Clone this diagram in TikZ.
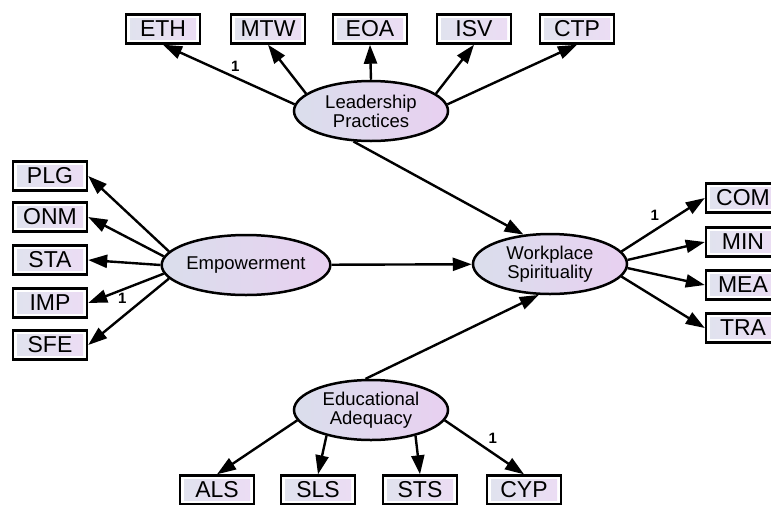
\documentclass[tikz,border=0pt]{standalone}
\usepackage{fontspec}
\setmainfont{Liberation Sans}
\usetikzlibrary{arrows.meta,shapes.geometric}
\definecolor{ellL}{RGB}{218,222,236}
\definecolor{ellR}{RGB}{232,208,240}
\definecolor{boxL}{RGB}{224,227,238}
\definecolor{boxR}{RGB}{236,220,244}
\begin{document}
\begin{tikzpicture}[x=1pt,y=-1pt,
 latent/.style={ellipse, draw, line width=2.5pt, left color=ellL, right color=ellR,
   minimum width=154pt, minimum height=60pt, inner sep=0pt, align=center,
   font=\fontsize{18.5}{19}\selectfont},
 obs/.style={rectangle, draw, line width=2.4pt, fill=white, minimum width=74pt,
   minimum height=29pt, inner sep=0pt, font=\fontsize{23}{23}\selectfont,
   path picture={\shade[left color=boxL, right color=boxR]
     ([shift={(4pt,4pt)}]path picture bounding box.south west) rectangle
     ([shift={(-4pt,-4pt)}]path picture bounding box.north east);}},
 arr/.style={line width=2.4pt, -{Triangle[length=19pt,width=13pt]}},
 lab/.style={font=\fontsize{15}{15}\selectfont\bfseries, inner sep=1pt}]
\useasboundingbox (0,0) rectangle (771,504);
% latent variables
\node[latent] (lp) at (371,111) {Leadership\\Practices};
\node[latent] (emp) at (246,265) {Empowerment};
\node[latent] (wp) at (550,264) {Workplace\\Spirituality};
\node[latent] (ed) at (371,410) {Educational\\Adequacy};
% top indicators
\node[obs] (eth) at (163,29) {ETH};
\node[obs] (mtw) at (268,29) {MTW};
\node[obs] (eoa) at (370,29) {EOA};
\node[obs] (isv) at (474,29) {ISV};
\node[obs] (ctp) at (577,29) {CTP};
% left indicators
\node[obs] (plg) at (50,176) {PLG};
\node[obs] (onm) at (50,217) {ONM};
\node[obs] (sta) at (50,260) {STA};
\node[obs] (imp) at (50,303) {IMP};
\node[obs] (sfe) at (50,345) {SFE};
% right indicators
\node[obs] (com) at (743,198) {COM};
\node[obs] (min) at (743,242) {MIN};
\node[obs] (mea) at (743,285) {MEA};
\node[obs] (tra) at (743,328) {TRA};
% bottom indicators
\node[obs] (als) at (217,490) {ALS};
\node[obs] (sls) at (318,490) {SLS};
\node[obs] (sts) at (420,490) {STS};
\node[obs] (cyp) at (524,490) {CYP};
% leadership
\draw[arr] (lp.175) -- node[lab, pos=0.45, above=4pt] {1} (eth.south);
\draw[arr] (lp.165) -- (mtw.south);
\draw[arr] (lp.north) -- (eoa.south);
\draw[arr] (lp.15) -- (isv.south);
\draw[arr] (lp.5) -- (ctp.south);
% empowerment
\draw[arr] (emp.170) -- (plg.east);
\draw[arr] (emp.174) -- (onm.east);
\draw[arr] (emp.180) -- (sta.east);
\draw[arr] (emp.186) -- node[lab, pos=0.55, below=1pt] {1} (imp.east);
\draw[arr] (emp.190) -- (sfe.east);
% workplace
\draw[arr] (wp.10) -- node[lab, pos=0.4, above=7pt] {1} (com.west);
\draw[arr] (wp.3) -- (min.west);
\draw[arr] (wp.357) -- (mea.west);
\draw[arr] (wp.350) -- (tra.west);
% educational
\draw[arr] (ed.188) -- (als.north);
\draw[arr] (ed.210) -- (sls.north);
\draw[arr] (ed.330) -- (sts.north);
\draw[arr] (ed.352) -- node[lab, pos=0.5, above right=2pt] {1} (cyp.north);
% structural paths
\draw[arr] (lp.240) -- (wp.132);
\draw[arr] (emp) -- (wp);
\draw[arr] (ed.100) -- (wp.250);
\end{tikzpicture}
\end{document}
